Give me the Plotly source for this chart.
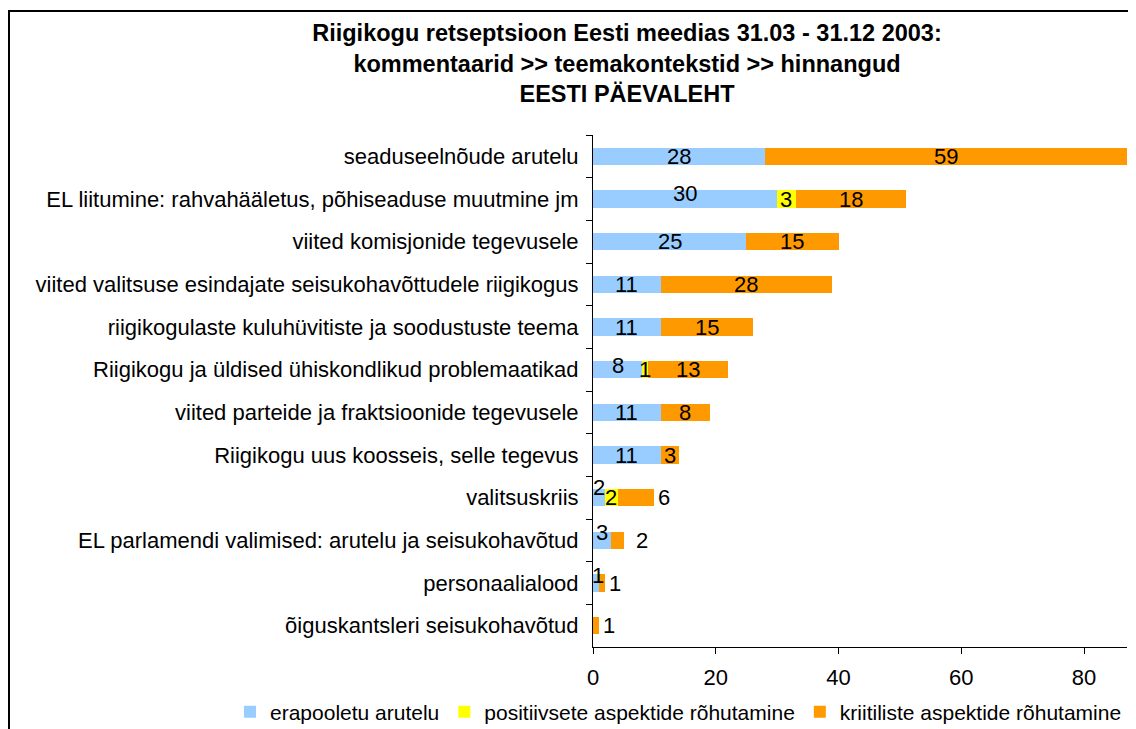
import plotly.graph_objects as go

categories = [
    "seaduseelnõude arutelu",
    "EL liitumine: rahvahääletus, põhiseaduse muutmine jm",
    "viited komisjonide tegevusele",
    "viited valitsuse esindajate seisukohavõttudele riigikogus",
    "riigikogulaste kuluhüvitiste ja soodustuste teema",
    "Riigikogu ja üldised ühiskondlikud problemaatikad",
    "viited parteide ja fraktsioonide tegevusele",
    "Riigikogu uus koosseis, selle tegevus",
    "valitsuskriis",
    "EL parlamendi valimised: arutelu ja seisukohavõtud",
    "personaalialood",
    "õiguskantsleri seisukohavõtud",
]
erapooletu = [28, 30, 25, 11, 11, 8, 11, 11, 2, 3, 1, 0]
positiivne = [0, 3, 0, 0, 0, 1, 0, 0, 2, 0, 0, 0]
kriitiline = [59, 18, 15, 28, 15, 13, 8, 3, 6, 2, 1, 1]

series_names = ["erapooletu arutelu", "positiivsete aspektide rõhutamine",
                "kriitiliste aspektide rõhutamine"]
series_values = [erapooletu, positiivne, kriitiline]
colors = ["#99CCFF", "#FFFF00", "#FF9900"]

# label style tweaks: (row, series) -> (mode, xshift, yshift)
label_style = {
    (1, 0): ("c", 0, 6),
    (5, 0): ("c", 0, 4),
    (8, 0): ("c", 0, 10),
    (8, 2): ("r", 2, 0),
    (9, 0): ("c", 0, 8),
    (9, 2): ("r", 10, 0),
    (10, 0): ("c", 2, 8),
    (10, 2): ("r", 2, 0),
    (11, 2): ("r", 2, 0),
}

FONT = "Liberation Sans, Arial, sans-serif"
FS = 22

fig = go.Figure()
for name, vals, col in zip(series_names, series_values, colors):
    fig.add_trace(go.Bar(
        y=categories, x=vals, name=name, orientation="h",
        marker=dict(color=col, line=dict(width=0)),
        hoverinfo="x+name",
    ))

annotations = []
for i, cat in enumerate(categories):
    cum = 0
    total = sum(sv[i] for sv in series_values)
    for s, vals in enumerate(series_values):
        v = vals[i]
        if v > 0:
            mode, xs, ys = label_style.get((i, s), ("c", 0, 0))
            if mode == "c":
                annotations.append(dict(x=cum + v / 2, y=cat, text=str(v), showarrow=False,
                                        xanchor="center", yanchor="middle",
                                        xshift=xs, yshift=ys,
                                        font=dict(size=FS, color="black")))
            else:
                annotations.append(dict(x=total, y=cat, text=str(v), showarrow=False,
                                        xanchor="left", yanchor="middle",
                                        xshift=xs, yshift=ys,
                                        font=dict(size=FS, color="black")))
        cum += v

# page body has an 8px margin: work in screen pixels and shift
OFF = 8
W, H = 1136 - OFF, 729 - OFF
L, R, T, B = 593 - OFF, 9, 135 - OFF, 82
pw, ph = W - L - R, H - T - B


def cx(p):  # screen px -> container fraction
    return (p - OFF) / W


def cy(p):
    return 1 - (p - OFF) / H


def px(p):  # screen px -> paper x fraction
    return (p - OFF - L) / pw


def py(p):  # screen px -> paper y fraction
    return (H - B - (p - OFF)) / ph


shapes = [
    dict(type="line", xref="paper", yref="paper",
         x0=px(8), x1=px(1136 + 2),
         y0=py(11), y1=py(11),
         line=dict(color="black", width=2)),
    dict(type="line", xref="paper", yref="paper",
         x0=px(9), x1=px(9),
         y0=py(11), y1=py(729 + 2),
         line=dict(color="black", width=2)),
]

fig.update_layout(
    width=W, height=H,
    barmode="stack", bargap=0.6,
    paper_bgcolor="white", plot_bgcolor="white",
    margin=dict(l=L, r=R, t=T, b=B, autoexpand=False),
    font=dict(family=FONT, size=FS, color="black"),
    title=dict(
        text="<b>Riigikogu retseptsioon Eesti meedias 31.03 - 31.12 2003:<br>"
             "kommentaarid >> teemakontekstid >> hinnangud<br>EESTI PÄEVALEHT</b>",
        xref="container", x=cx(627), xanchor="center",
        yref="container", y=cy(41), yanchor="top",
        font=dict(size=23.5, family=FONT),
    ),
    xaxis=dict(range=[0, 87], tickvals=[0, 20, 40, 60, 80], showgrid=False,
               zeroline=False, showline=True, linecolor="black", linewidth=1,
               ticks="outside", ticklen=6, tickcolor="black",
               tickfont=dict(size=FS), ticklabelstandoff=5, fixedrange=True),
    yaxis=dict(autorange="reversed", showgrid=False, zeroline=False,
               showline=True, linecolor="black", linewidth=1,
               ticks="outside", ticklen=6, tickcolor="black",
               tickson="boundaries", tickfont=dict(size=FS), ticklabelstandoff=9),
    legend=dict(orientation="h", xref="paper", yref="paper",
                x=px(230), xanchor="left", y=py(712), yanchor="middle",
                font=dict(size=21), traceorder="normal", itemwidth=30,
                tracegroupgap=0),
    annotations=annotations,
    shapes=shapes,
    showlegend=True,
)

fig.write_html("out.html")
